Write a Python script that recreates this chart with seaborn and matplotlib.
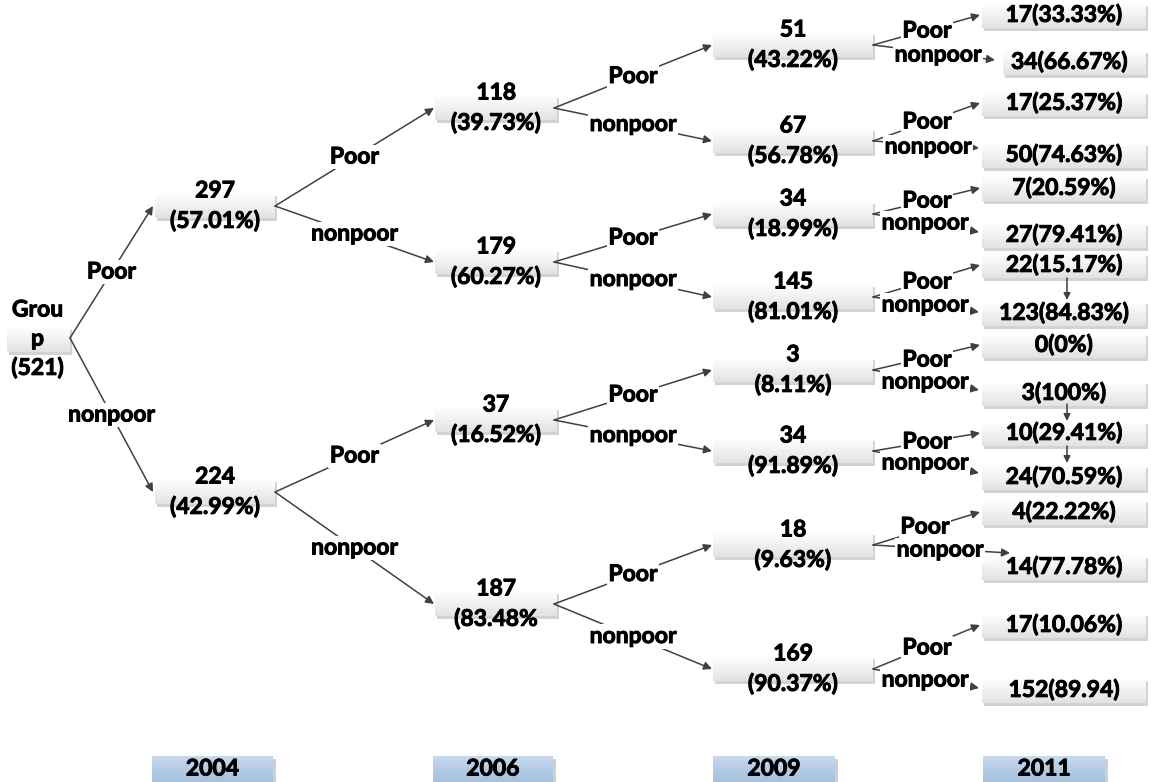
import os
import numpy as np
import matplotlib
matplotlib.use("Agg")
import matplotlib.pyplot as plt
from matplotlib import font_manager, patheffects
from matplotlib.font_manager import FontProperties
from matplotlib.patches import Rectangle
from matplotlib.colors import LinearSegmentedColormap
import seaborn as sns

# ---------------- data ----------------
root_label = ["Grou", "p", "(521)"]
branches = ["Poor", "nonpoor"]
lvl1_n = ["297", "224"]
lvl1_pct = ["(57.01%)", "(42.99%)"]
lvl2_n = ["118", "179", "37", "187"]
lvl2_pct = ["(39.73%)", "(60.27%)", "(16.52%)", "(83.48%"]
lvl3_n = ["51", "67", "34", "145", "3", "34", "18", "169"]
lvl3_pct = ["(43.22%)", "(56.78%)", "(18.99%)", "(81.01%)",
            "(8.11%)", "(91.89%)", "(9.63%)", "(90.37%)"]
lvl4_lbl = ["17(33.33%)", "34(66.67%)", "17(25.37%)", "50(74.63%)",
            "7(20.59%)", "27(79.41%)", "22(15.17%)", "123(84.83%)",
            "0(0%)", "3(100%)", "10(29.41%)", "24(70.59%)",
            "4(22.22%)", "14(77.78%)", "17(10.06%)", "152(89.94)"]
years = ["2004", "2006", "2009", "2011"]

# ---------------- layout (pixel space) ----------------
X0 = (7, 70)
X1 = (155, 275)
X2 = (435, 557)
X3 = (713, 873)
X4 = (982, 1146)
Y0 = 340
Y1 = [206, 492]
Y2 = [108, 262, 420, 604]
Y3 = [45, 141, 214, 297, 370, 451, 545, 669]
Y4 = [15, 62, 103, 155, 188, 235, 265, 313, 345, 393, 433, 477, 512, 567, 625, 690]
X4_left = [982, 1003] + [982] * 14
poor4_xy = [(927, 31), (927, 122), (927, 201), (927, 282),
            (927, 360), (927, 442), (925, 527), (927, 648)]
nonp4_xy = [(938, 55), (928, 147), (925, 223), (925, 305),
            (925, 382), (925, 463), (940, 550), (925, 680)]
nonp4_tip = [(995, 60), (979, 148), (979, 232), (979, 312),
             (979, 390), (979, 473), (1010, 553), (979, 688)]
down_arrows = [(1067, 278, 300), (1067, 404, 421), (1067, 446, 463)]
year_x = [(152, 273), (433, 553), (713, 835), (983, 1105)]

sns.set_theme(style="white")
plt.rcParams["font.family"] = ["Lato", "DejaVu Sans"]

FS = 16.5
FP = FontProperties(family=["Lato", "DejaVu Sans"], weight="bold", size=FS)
PE = [patheffects.withStroke(linewidth=0.7, foreground="black")]

W, H = 1151, 782
fig = plt.figure(figsize=(W / 100, H / 100), dpi=100)
ax = fig.add_axes([0, 0, 1, 1])
ax.axis("off")

LC = "#404040"
node_cmap = LinearSegmentedColormap.from_list("node", ["#ffffff", "#f1f1f1", "#e2e2e2"])
year_cmap = LinearSegmentedColormap.from_list("year", ["#c8dbee", "#b5cce4", "#a6c1dd"])
grad = np.linspace(0, 1, 64).reshape(-1, 1)


def gbox(x0, x1, yc, h=25, cmap=node_cmap, shadow="#d3d3d3", off=2.5):
    y0, y1 = yc - h / 2, yc + h / 2
    ax.add_patch(Rectangle((x0 + off, y0 + off), x1 - x0, h, fc=shadow, ec="none", zorder=1))
    ax.imshow(grad, extent=(x0, x1, y1, y0), cmap=cmap, aspect="auto",
              zorder=1.5, interpolation="bilinear")


def txt(x, y, s, z=4, bg=False):
    kw = dict(ha="center", va="center", fontproperties=FP,
              color="#000000", zorder=z, path_effects=PE)
    if bg:
        kw["bbox"] = dict(fc="white", ec="none", pad=1.2)
    ax.text(x, y, s, **kw)


def arrow(src, tip, ms=12, z=2):
    ax.annotate("", xy=tip, xytext=src,
                arrowprops=dict(arrowstyle="-|>", color=LC, lw=1.1,
                                mutation_scale=ms, shrinkA=0, shrinkB=0),
                zorder=z)


def edge(src, tip, label):
    arrow(src, tip)
    mx, my = (src[0] + tip[0]) / 2, (src[1] + tip[1]) / 2
    txt(mx, my, label, z=5, bg=True)


# root
gbox(X0[0], X0[1], Y0)
for s, y in zip(root_label, [310, 339, 368]):
    txt((X0[0] + X0[1]) / 2 - 1, y, s)

# level 1
for i, yc in enumerate(Y1):
    gbox(X1[0], X1[1], yc)
    txt((X1[0] + X1[1]) / 2, yc - 15, lvl1_n[i])
    txt((X1[0] + X1[1]) / 2, yc + 15, lvl1_pct[i])
    edge((X0[1], Y0 - 2), (X1[0] - 2, yc), branches[i])

# level 2
for i, yc in enumerate(Y2):
    gbox(X2[0], X2[1], yc)
    txt((X2[0] + X2[1]) / 2, yc - 15, lvl2_n[i])
    txt((X2[0] + X2[1]) / 2, yc + 15, lvl2_pct[i])
    p = i // 2
    edge((X1[1], Y1[p]), (X2[0] - 1, yc), branches[i % 2])

# level 3
for i, yc in enumerate(Y3):
    gbox(X3[0], X3[1], yc)
    txt((X3[0] + X3[1]) / 2, yc - 15, lvl3_n[i])
    txt((X3[0] + X3[1]) / 2, yc + 15, lvl3_pct[i])
    p = i // 2
    edge((X2[1] - 3, Y2[p]), (X3[0] - 1, yc), branches[i % 2])

# level 4
for i, yc in enumerate(Y4):
    gbox(X4_left[i], X4[1], yc + 1)
    cx = (X4_left[i] + X4[1]) / 2 - (5 if i == 1 else 0)
    txt(cx, yc, lvl4_lbl[i])

for j, ys in enumerate(Y3):
    src = (X3[1], ys)
    arrow(src, (980, Y4[2 * j]))
    arrow(src, nonp4_tip[j])
    txt(poor4_xy[j][0], poor4_xy[j][1], branches[0], z=5, bg=True)
    txt(nonp4_xy[j][0], nonp4_xy[j][1], branches[1], z=5, bg=True)

for x, ya, yb in down_arrows:
    arrow((x, ya), (x, yb), ms=10, z=6)

# year boxes
for (xa, xb), yr in zip(year_x, years):
    gbox(xa, xb, 769, h=26, cmap=year_cmap, shadow="#cfcfcf", off=3)
    txt((xa + xb) / 2, 769, yr)

ax.set_xlim(0, W)
ax.set_ylim(H, 0)
fig.savefig("out.png", dpi=100, facecolor="white")
